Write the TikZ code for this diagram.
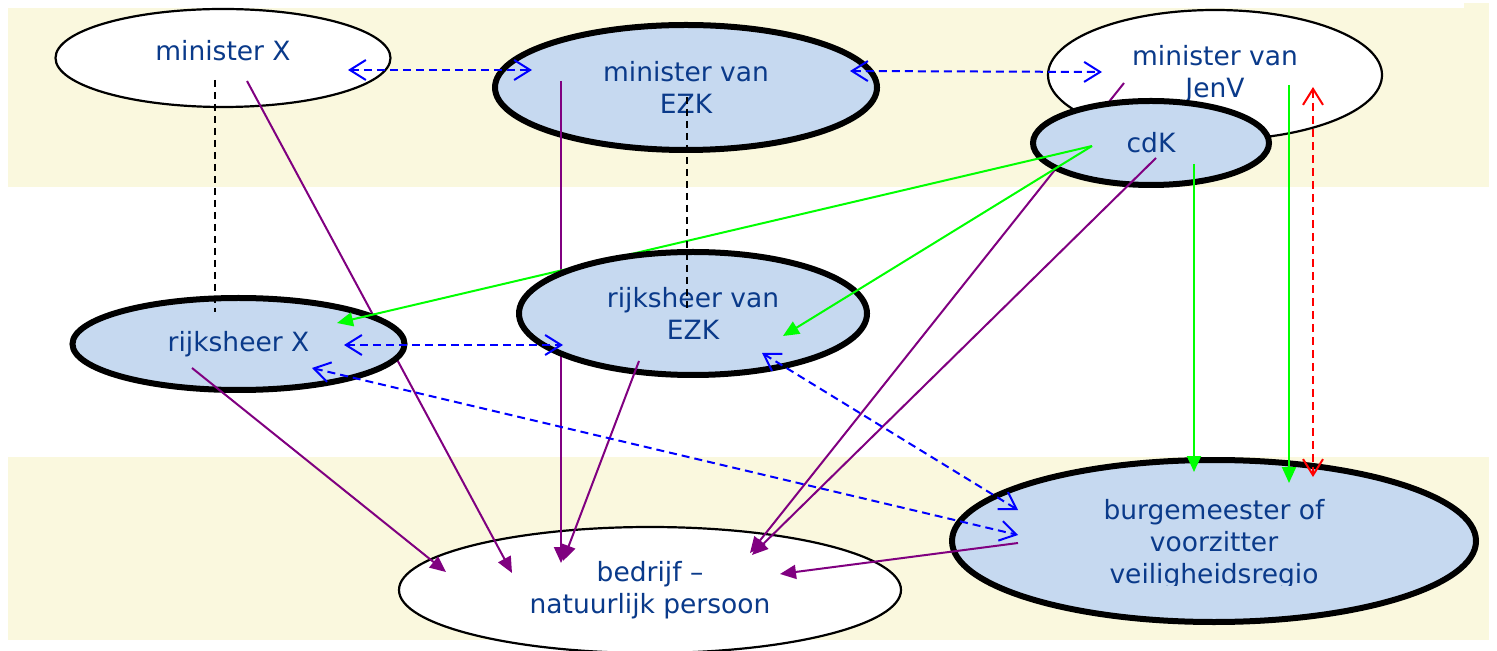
\documentclass[tikz,border=0pt]{standalone}
\usepackage{fontspec}
\setmainfont{DejaVu Sans}
\usetikzlibrary{arrows.meta,shapes.geometric}
\definecolor{bandcol}{RGB}{250,248,222}
\definecolor{nfill}{RGB}{198,217,240}
\definecolor{ntext}{RGB}{10,58,138}
\definecolor{purcol}{RGB}{128,0,128}
\definecolor{grncol}{RGB}{0,255,0}
\newcommand{\mydstrut}[1]{\rule[-#1]{0pt}{#1}}
\begin{document}
\begin{tikzpicture}[x=0.5pt,y=-0.5pt,
  ellbase/.style={ellipse, inner sep=0pt, align=center, text=ntext, font=\fontsize{13.25}{16}\selectfont},
  plainnode/.style={ellbase, draw=black, line width=1.1pt, fill=white},
  bluenode/.style={ellbase, draw=black, line width=3pt, fill=nfill},
  purarrow/.style={draw=purcol, line width=1pt, -{Triangle[length=8pt,width=7pt]}},
  grnarrow/.style={draw=grncol, line width=1pt, -{Triangle[length=8pt,width=7pt]}},
  bluebi/.style={draw=blue, line width=1pt, dash pattern=on 4pt off 2.5pt,
    {Straight Barb[length=8pt,width=10pt]}-{Straight Barb[length=8pt,width=10pt]}},
  redbi/.style={draw=red, line width=1pt, dash pattern=on 4pt off 2.5pt,
    {Straight Barb[length=8pt,width=10pt]}-{Straight Barb[length=8pt,width=10pt]}},
  blackdash/.style={draw=black, line width=1pt, dash pattern=on 3.5pt off 2.5pt}
]
\useasboundingbox (0,0) rectangle (1497,651);
% background bands
\fill[bandcol] (8,8) rectangle (1489,187);
\fill[bandcol] (1464,3) rectangle (1489,8);
\fill[bandcol] (8,457) rectangle (1489,640);

% base nodes
\node[plainnode, minimum width=167.5pt, minimum height=49pt] (mx) at (223,58) {minister X\mydstrut{8pt}};
\node[bluenode, minimum width=191pt, minimum height=62.5pt] (mezk) at (686,87.5) {minister van\\EZK};
\node[plainnode, minimum width=167pt, minimum height=65pt] (mjv) at (1215,75) {minister van\\JenV\mydstrut{4pt}};
\node[plainnode, minimum width=251pt, minimum height=63pt] (bd) at (650,590) {bedrijf –\\natuurlijk persoon};
\node[bluenode, minimum width=262pt, minimum height=81pt] (bg) at (1214,541) {};
\begin{scope}
  \clip (949,440) rectangle (1479,585);
  \node[ellbase] (bgt) at (1214,544.5) {burgemeester of\\voorzitter\\veiligheidsregio};
\end{scope}

% connector end points
\coordinate (mxP) at (247,81);
\coordinate (bdP1) at (512,573);
\coordinate (mezkP) at (561,81);
\coordinate (bdP2) at (561,563);
\coordinate (mjvP) at (1124,83);
\coordinate (bdP3) at (750,553);
\coordinate (rxP) at (192,368);
\coordinate (bdP4) at (446,572);
\coordinate (rezkP) at (639,361);
\coordinate (bdP5) at (563,561);
\coordinate (cdkP) at (1156,158);
\coordinate (bdP6) at (752,555);
\coordinate (bgP) at (1018,543);
\coordinate (bdP7) at (780,574);
\coordinate (cdkG) at (1092,146);
\coordinate (rxG) at (337,323);
\coordinate (rezkG) at (783,336);
\coordinate (cdkG2) at (1194,164);
\coordinate (bgG1) at (1194,472);
\coordinate (mjvG) at (1289,85);
\coordinate (bgG2) at (1289,483);
\coordinate (mxB) at (348,70);
\coordinate (mezkB1) at (532,70);
\coordinate (mezkB2) at (850,71);
\coordinate (mjvB) at (1102,72);
\coordinate (rxB1) at (344,345);
\coordinate (rezkB1) at (563,345);
\coordinate (rxB2) at (312,368);
\coordinate (bgB1) at (1018,535);
\coordinate (rezkB2) at (762,353);
\coordinate (bgB2) at (1018,510);
\coordinate (mjvR) at (1313,87);
\coordinate (bgR) at (1313,477);
\coordinate (mxD) at (215,80);
\coordinate (rxD) at (215,312);
\coordinate (mezkD) at (687,97);
\coordinate (rezkD) at (687,312);

% lines that pass behind later nodes
\draw[purarrow] (mxP) -- (bdP1);
\draw[purarrow] (mezkP) -- (bdP2);
\draw[purarrow] (mjvP) -- (bdP3);

\node[bluenode, minimum width=118pt, minimum height=42pt] (cdk) at (1151,143) {cdK};
\node[bluenode, minimum width=166pt, minimum height=46pt] (rx) at (238.5,344) {rijksheer X};
\draw[grnarrow] (cdkG) -- (rxG);
\node[bluenode, minimum width=174pt, minimum height=61.5pt] (rezk) at (693,313.5) {rijksheer van\\EZK};

% remaining connectors
\draw[grnarrow] (cdkG) -- (rezkG);
\draw[grnarrow] (cdkG2) -- (bgG1);
\draw[grnarrow] (mjvG) -- (bgG2);
\draw[purarrow] (rxP) -- (bdP4);
\draw[purarrow] (rezkP) -- (bdP5);
\draw[purarrow] (cdkP) -- (bdP6);
\draw[purarrow] (bgP) -- (bdP7);
\draw[bluebi] (mxB) -- (mezkB1);
\draw[bluebi] (mezkB2) -- (mjvB);
\draw[bluebi] (rxB1) -- (rezkB1);
\draw[bluebi] (rxB2) -- (bgB1);
\draw[bluebi] (rezkB2) -- (bgB2);
\draw[redbi] (mjvR) -- (bgR);
\draw[blackdash] (mxD) -- (rxD);
\draw[blackdash] (mezkD) -- (rezkD);
\end{tikzpicture}
\end{document}
